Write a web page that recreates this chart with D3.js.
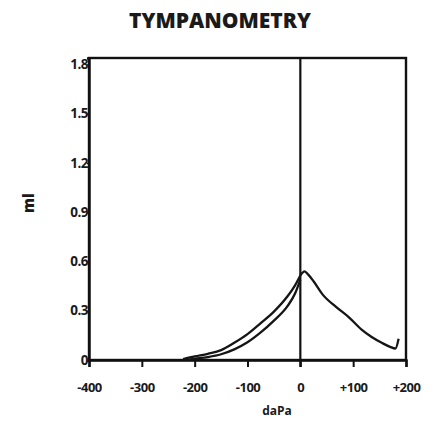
<!DOCTYPE html>
<html><head><meta charset="utf-8">
<script src="https://cdn.jsdelivr.net/npm/d3@7"></script>
<style>
html,body{margin:0;padding:0;background:#fff;}
svg{display:block;}
text{font-family:"Open Sans","DejaVu Sans",sans-serif;fill:#1a1a1a;}
</style></head>
<body>
<svg id="c" width="442" height="423"></svg>
<script>
const title = "TYMPANOMETRY";
const xLabel = "daPa";
const yLabel = "ml";
const xTicks = [-400, -300, -200, -100, 0, 100, 200];
const xTickLabels = ["-400", "-300", "-200", "-100", "0", "+100", "+200"];
const yTicks = [0, 0.3, 0.6, 0.9, 1.2, 1.5, 1.8];
const yTickLabels = ["0", "0.3", "0.6", "0.9", "1.2", "1.5", "1.8"];

// outer left curve (negative pressure sweep)
const outerP = [-222, -200, -175, -150, -125, -100, -75, -50, -25, -10, 0];
const outerV = [0.006, 0.022, 0.038, 0.06, 0.105, 0.158, 0.225, 0.295, 0.385, 0.455, 0.515];
// inner left curve
const innerP = [-212, -200, -175, -150, -125, -100, -75, -50, -25, -10, 0];
const innerV = [0.003, 0.008, 0.018, 0.035, 0.065, 0.108, 0.168, 0.24, 0.325, 0.405, 0.49];
// right curve (positive pressure side)
const rightP = [0, 8, 15, 25, 42, 67, 92, 116, 135, 154, 170, 180, 186];
const rightV = [0.515, 0.54, 0.52, 0.48, 0.40, 0.325, 0.26, 0.185, 0.14, 0.105, 0.08, 0.07, 0.13];

const svg = d3.select("#c");
const L = 89, R = 406, T = 58, B = 360;
const x = d3.scaleLinear().domain([-400, 200]).range([L, R]);
const y = d3.scaleLinear().domain([0, 1.84]).range([B, T]);

svg.append("text").attr("x", 220).attr("y", 28).attr("text-anchor", "middle")
  .attr("font-size", 21).attr("font-weight", 800).text(title);

// frame
svg.append("rect").attr("x", L).attr("y", T).attr("width", R - L).attr("height", B - T)
  .attr("fill", "none").attr("stroke", "#111").attr("stroke-width", 2.4);

// x axis
const xa = svg.append("g").attr("transform", `translate(0,${B})`)
  .call(d3.axisBottom(x).tickValues(xTicks).tickSize(7).tickFormat((d, i) => xTickLabels[i]));
xa.select(".domain").attr("stroke", "#111").attr("stroke-width", 2.4);
xa.selectAll(".tick line").attr("stroke", "#111").attr("stroke-width", 2);
xa.selectAll(".tick text").attr("font-size", 13).attr("font-weight", 700)
  .attr("font-family", "'Open Sans',sans-serif").attr("fill", "#1a1a1a")
  .attr("letter-spacing", "-0.5").attr("y", 20).attr("dy", "0.9em");

// y axis
const ya = svg.append("g").attr("transform", `translate(${L},0)`)
  .call(d3.axisLeft(y).tickValues(yTicks).tickSize(2).tickFormat((d, i) => yTickLabels[i]));
ya.select(".domain").attr("stroke", "#111").attr("stroke-width", 2.4);
ya.selectAll(".tick line").attr("stroke", "#111").attr("stroke-width", 1.5);
ya.selectAll(".tick text").attr("font-size", 13.5).attr("font-weight", 700)
  .attr("font-family", "'Open Sans',sans-serif").attr("fill", "#1a1a1a")
  .attr("letter-spacing", "-0.5").attr("x", -1).attr("dy", "0.3em");

// zero line
svg.append("line").attr("x1", x(0)).attr("x2", x(0)).attr("y1", T).attr("y2", B + 7)
  .attr("stroke", "#111").attr("stroke-width", 2.2);

svg.append("text").attr("x", 277).attr("y", 415).attr("text-anchor", "middle")
  .attr("font-size", 12).attr("font-weight", 700).text(xLabel);
svg.append("text").attr("transform", "translate(34,203) rotate(-90)").attr("text-anchor", "middle")
  .attr("font-size", 15).attr("font-weight", 800).text(yLabel);

const line = d3.line().x(d => x(d[0])).y(d => y(d[1])).curve(d3.curveMonotoneX);
[[outerP, outerV], [innerP, innerV], [rightP, rightV]].forEach(([p, v]) => {
  svg.append("path").datum(p.map((d, i) => [d, v[i]])).attr("d", line)
    .attr("fill", "none").attr("stroke", "#151515").attr("stroke-width", 2.3)
    .attr("stroke-linejoin", "round");
});
</script>
</body></html>
